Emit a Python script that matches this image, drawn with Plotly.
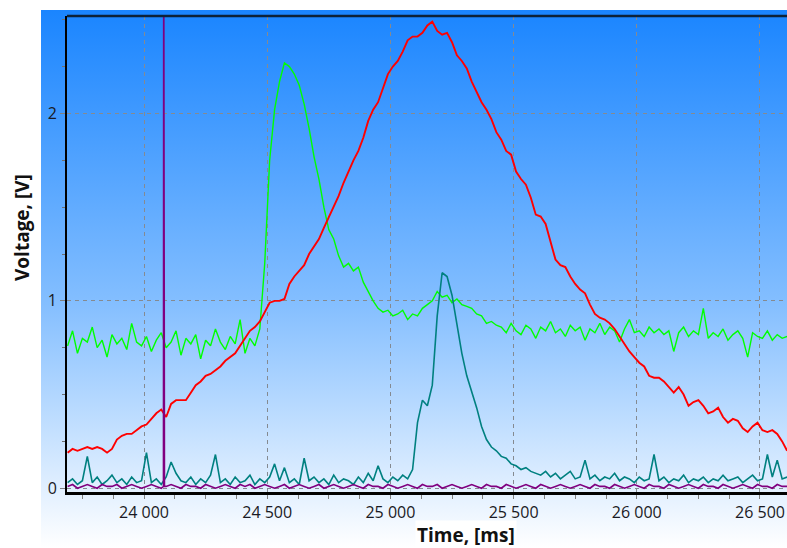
import plotly.graph_objects as go

# ---------------- data ----------------
time_ms = list(range(23690, 26611, 20))  # sample grid, 147 samples

red_v = [
    0.19, 0.21, 0.20, 0.21, 0.22, 0.21, 0.22, 0.21, 0.19, 0.21,
    0.26, 0.28, 0.29, 0.29, 0.31, 0.33, 0.34, 0.37, 0.40, 0.42,
    0.38, 0.45, 0.47, 0.47, 0.47, 0.51, 0.55, 0.57, 0.60, 0.61,
    0.63, 0.65, 0.68, 0.70, 0.72, 0.76, 0.80, 0.84, 0.86, 0.89,
    0.94, 0.99, 1.00, 1.00, 1.01, 1.09, 1.13, 1.16, 1.19, 1.25,
    1.29, 1.33, 1.39, 1.45, 1.51, 1.56, 1.63, 1.69, 1.75, 1.80,
    1.87, 1.96, 2.02, 2.06, 2.13, 2.21, 2.25, 2.28, 2.33, 2.39,
    2.41, 2.41, 2.43, 2.47, 2.49, 2.44, 2.42, 2.43, 2.38, 2.31,
    2.28, 2.24, 2.17, 2.11, 2.06, 2.02, 1.97, 1.90, 1.86, 1.80,
    1.78, 1.69, 1.65, 1.62, 1.55, 1.46, 1.45, 1.41, 1.31, 1.22,
    1.19, 1.18, 1.13, 1.09, 1.06, 1.04, 0.98, 0.93, 0.91, 0.90,
    0.88, 0.85, 0.81, 0.77, 0.73, 0.70, 0.67, 0.65, 0.60, 0.59,
    0.59, 0.57, 0.54, 0.51, 0.54, 0.50, 0.44, 0.46, 0.47, 0.44,
    0.40, 0.41, 0.43, 0.38, 0.35, 0.37, 0.36, 0.32, 0.30, 0.33,
    0.35, 0.31, 0.30, 0.31, 0.29, 0.25, 0.20,
]

green_v = [
    0.76, 0.84, 0.72, 0.80, 0.78, 0.86, 0.75, 0.79, 0.70, 0.82,
    0.77, 0.80, 0.74, 0.88, 0.78, 0.76, 0.81, 0.73, 0.79, 0.83,
    0.75, 0.78, 0.84, 0.71, 0.80, 0.77, 0.82, 0.69, 0.79, 0.76,
    0.85, 0.78, 0.74, 0.81, 0.77, 0.90, 0.72, 0.80, 0.76, 0.85,
    1.20, 1.75, 2.02, 2.17, 2.27, 2.25, 2.21, 2.15, 2.05, 1.92,
    1.77, 1.65, 1.50, 1.38, 1.33, 1.24, 1.18, 1.20, 1.16, 1.18,
    1.10, 1.05, 1.00, 0.96, 0.94, 0.95, 0.92, 0.93, 0.95, 0.90,
    0.93, 0.92, 0.96, 0.98, 1.00, 1.05, 1.02, 1.03, 0.99, 1.01,
    0.98, 0.97, 0.96, 0.93, 0.92, 0.88, 0.89, 0.87, 0.86, 0.83,
    0.88, 0.84, 0.82, 0.87, 0.85, 0.80, 0.86, 0.84, 0.89, 0.83,
    0.85, 0.81, 0.87, 0.84, 0.86, 0.79, 0.85, 0.83, 0.88, 0.82,
    0.86, 0.84, 0.78, 0.85, 0.90, 0.83, 0.84, 0.81, 0.86, 0.83,
    0.85, 0.82, 0.84, 0.73, 0.83, 0.86, 0.81, 0.84, 0.82, 0.96,
    0.80, 0.83, 0.81, 0.85, 0.79, 0.82, 0.84, 0.80, 0.70, 0.83,
    0.81, 0.80, 0.84, 0.79, 0.82, 0.80, 0.81,
]

teal_v = [
    0.03, 0.05, 0.02, 0.04, 0.17, 0.03, 0.06, 0.02, 0.04, 0.07,
    0.03, 0.05, 0.02, 0.06, 0.03, 0.04, 0.19, 0.03, 0.05, 0.02,
    0.06, 0.14, 0.08, 0.04, 0.03, 0.06, 0.02, 0.05, 0.03, 0.07,
    0.18, 0.03, 0.05, 0.02, 0.06, 0.03, 0.04, 0.07, 0.02, 0.05,
    0.03, 0.06, 0.13, 0.04, 0.11, 0.03, 0.05, 0.02, 0.16, 0.04,
    0.06, 0.03, 0.05, 0.02, 0.07, 0.03, 0.05, 0.04, 0.02, 0.06,
    0.03, 0.08, 0.04, 0.12, 0.05, 0.03, 0.06, 0.04, 0.07, 0.05,
    0.10, 0.35, 0.47, 0.44, 0.55, 0.92, 1.15, 1.13, 1.03, 0.88,
    0.72, 0.60, 0.52, 0.43, 0.33, 0.26, 0.22, 0.20, 0.17, 0.16,
    0.13, 0.12, 0.10, 0.11, 0.09, 0.08, 0.07, 0.09, 0.06, 0.08,
    0.05, 0.07, 0.09, 0.05, 0.06, 0.15, 0.05, 0.07, 0.04, 0.06,
    0.05, 0.08, 0.04, 0.06, 0.05, 0.03, 0.06, 0.04, 0.05, 0.18,
    0.04, 0.06, 0.03, 0.05, 0.04, 0.07, 0.03, 0.05, 0.04, 0.06,
    0.03, 0.05, 0.04, 0.07, 0.04, 0.05, 0.06, 0.03, 0.05, 0.07,
    0.04, 0.05, 0.18, 0.06, 0.15, 0.05, 0.06,
]

purple_v = [
    0.01, 0.02, 0.00, 0.01, 0.02, 0.01, 0.00, 0.02, 0.01, 0.01,
    0.02, 0.00, 0.01, 0.02, 0.01, 0.00, 0.01, 0.02, 0.01, 0.00,
    0.01, 0.02, 0.01, 0.00, 0.02, 0.01, 0.01, 0.00, 0.02, 0.01,
    0.00, 0.01, 0.02, 0.01, 0.00, 0.02, 0.01, 0.02, 0.00, 0.01,
    0.02, 0.01, 0.00, 0.01, 0.02, 0.00, 0.01, 0.02, 0.01, 0.00,
    0.01, 0.02, 0.00, 0.01, 0.02, 0.01, 0.00, 0.01, 0.02, 0.01,
    0.00, 0.02, 0.01, 0.01, 0.00, 0.02, 0.01, 0.00, 0.01, 0.02,
    0.01, 0.00, 0.02, 0.01, 0.01, 0.02, 0.00, 0.01, 0.02, 0.01,
    0.00, 0.01, 0.02, 0.01, 0.00, 0.02, 0.01, 0.01, 0.00, 0.02,
    0.01, 0.00, 0.01, 0.02, 0.01, 0.00, 0.02, 0.01, 0.00, 0.01,
    0.02, 0.01, 0.00, 0.01, 0.02, 0.01, 0.00, 0.02, 0.01, 0.01,
    0.00, 0.02, 0.01, 0.00, 0.01, 0.02, 0.01, 0.00, 0.02, 0.01,
    0.01, 0.00, 0.02, 0.01, 0.00, 0.01, 0.02, 0.01, 0.00, 0.02,
    0.01, 0.01, 0.00, 0.02, 0.01, 0.00, 0.01, 0.02, 0.01, 0.00,
    0.02, 0.01, 0.01, 0.00, 0.02, 0.01, 0.01,
]

# purple trigger spike
spike_time = [24079, 24080, 24081, 24082, 24083]
spike_volt = [0.01, 3.00, 0.01, 1.13, 0.01]

x_tick_vals = [24000, 24500, 25000, 25500, 26000, 26500]
x_tick_text = ["24 000", "24 500", "25 000", "25 500", "26 000", "26 500"]
y_tick_vals = [0, 1, 2]
y_tick_text = ["0", "1", "2"]

# ---------------- figure ----------------
pairs = sorted(zip(time_ms + spike_time, purple_v + spike_volt))
purple_t = [p[0] for p in pairs]
purple_y = [p[1] for p in pairs]

fig = go.Figure()
fig.add_trace(go.Scatter(x=time_ms, y=green_v, mode="lines",
                         line=dict(color="#00FF00", width=1.4), showlegend=False))
fig.add_trace(go.Scatter(x=time_ms, y=red_v, mode="lines",
                         line=dict(color="#FF0000", width=1.9), showlegend=False))
fig.add_trace(go.Scatter(x=time_ms, y=teal_v, mode="lines",
                         line=dict(color="#008080", width=1.6), showlegend=False))
fig.add_trace(go.Scatter(x=purple_t, y=purple_y, mode="lines",
                         line=dict(color="#800080", width=1.6), showlegend=False))

grad_svg = (
    "data:image/svg+xml;utf8,"
    "<svg xmlns='http://www.w3.org/2000/svg' width='100' height='100' preserveAspectRatio='none'>"
    "<defs><linearGradient id='g' x1='0' y1='0' x2='0' y2='1'>"
    "<stop offset='0' stop-color='%231A85FF'/>"
    "<stop offset='0.55' stop-color='%2385BFFF'/>"
    "<stop offset='1' stop-color='%23FFFFFF'/>"
    "</linearGradient></defs>"
    "<rect width='100' height='100' fill='url(%23g)'/></svg>"
)

L, R, T, B = 67, 0, 16, 56
W, H = 787, 548
pw, ph = W - L - R, H - T - B

def px_x(px):
    return (px - L) / pw

def px_y(py):
    return (H - B - py) / ph

fig.add_layout_image(dict(
    source=grad_svg, xref="paper", yref="paper",
    x=px_x(41), y=px_y(10), sizex=px_x(787) - px_x(41), sizey=px_y(10) - px_y(548),
    xanchor="left", yanchor="top", sizing="stretch", layer="below",
))

tickfont = dict(family="Open Sans, sans-serif", size=16, color="#1a1a24")

fig.update_layout(
    width=W, height=H,
    margin=dict(l=L, r=R, t=T, b=B),
    paper_bgcolor="white",
    plot_bgcolor="rgba(0,0,0,0)",
    showlegend=False,
    xaxis=dict(
        range=[23687.5, 26609.6],
        tickmode="array", tickvals=x_tick_vals, ticktext=x_tick_text,
        tickfont=tickfont,
        showgrid=True, gridcolor="#858a90", gridwidth=1, griddash="4px,4px",
        zeroline=False,
        showline=True, linecolor="black", linewidth=3,
        ticks="outside", ticklen=4, tickcolor="#808080",
        minor=dict(tickmode="array",
                   tickvals=list(range(23750, 26610, 125)),
                   ticks="outside", ticklen=4, tickcolor="#808080", showgrid=False),
    ),
    yaxis=dict(
        range=[-0.02, 2.52],
        tickmode="array", tickvals=y_tick_vals, ticktext=y_tick_text,
        tickfont=tickfont,
        showgrid=True, gridcolor="#858a90", gridwidth=1, griddash="4px,4px",
        zeroline=False,
        showline=True, linecolor="black", linewidth=2,
        ticks="outside", ticklen=5, tickcolor="#808080",
        minor=dict(tickmode="array",
                   tickvals=[0.25, 0.5, 0.75, 1.25, 1.5, 1.75, 2.25, 2.5],
                   ticks="outside", ticklen=3, tickcolor="#707070", showgrid=False),
    ),
    shapes=[dict(type="line", xref="paper", yref="paper", x0=0, x1=1, y0=1, y1=1,
                 line=dict(color="#0d2238", width=2.5))],
    annotations=[
        dict(text="<b>Time, [ms]</b>", xref="paper", yref="paper",
             x=px_x(466), y=px_y(535), xanchor="center", yanchor="middle",
             showarrow=False, bgcolor="white",
             font=dict(family="Open Sans, sans-serif", size=19, color="#111111")),
        dict(text="<b>Voltage, [V]</b>", xref="paper", yref="paper",
             x=px_x(22), y=px_y(228), xanchor="center", yanchor="middle",
             textangle=-90, showarrow=False,
             font=dict(family="Open Sans, sans-serif", size=19, color="#111111")),
    ],
)

fig.write_html("out.html")
